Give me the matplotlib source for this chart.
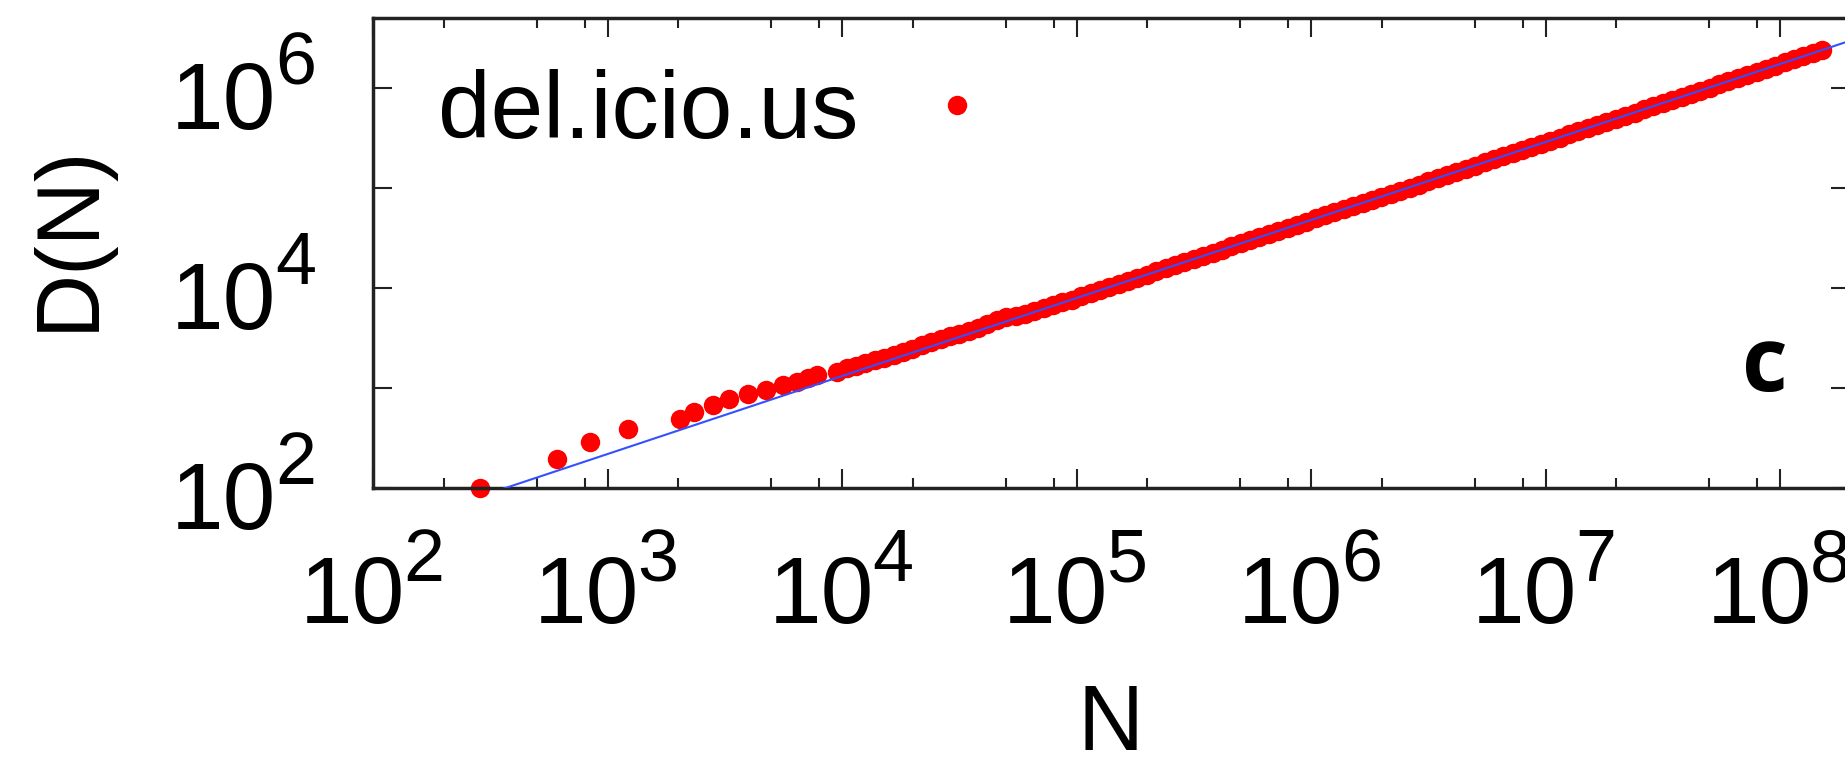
import numpy as np
import matplotlib
matplotlib.use('Agg')
import matplotlib.pyplot as plt
from matplotlib.ticker import LogLocator, NullFormatter, FixedLocator

plt.rcParams['font.family'] = ['Liberation Sans', 'DejaVu Sans']

# sparse early points (log10 N, log10 D)
early_logN = [2.456, 2.783, 2.925, 3.089, 3.309, 3.369, 3.451, 3.519, 3.600,
              3.676, 3.750, 3.807, 3.856, 3.892]
early_logD = [2.000, 2.287, 2.463, 2.590, 2.687, 2.763, 2.830, 2.887, 2.937,
              2.980, 3.030, 3.063, 3.097, 3.130]

# dense part of the curve (log10 N, log10 D)
dense_logN = [3.98, 4.02, 4.06, 4.10, 4.14, 4.18, 4.22, 4.26, 4.30, 4.34,
              4.38, 4.42, 4.46, 4.50, 4.54, 4.58, 4.62, 4.66, 4.70, 4.74,
              4.78, 4.82, 4.86, 4.90, 4.94, 4.98, 5.02, 5.06, 5.10, 5.14,
              5.18, 5.22, 5.26, 5.30, 5.34, 5.38, 5.42, 5.46, 5.50, 5.54,
              5.58, 5.62, 5.66, 5.70, 5.74, 5.78, 5.82, 5.86, 5.90, 5.94,
              5.98, 6.02, 6.06, 6.10, 6.14, 6.18, 6.22, 6.26, 6.30, 6.34,
              6.38, 6.42, 6.46, 6.50, 6.54, 6.58, 6.62, 6.66, 6.70, 6.74,
              6.78, 6.82, 6.86, 6.90, 6.94, 6.98, 7.02, 7.06, 7.10, 7.14,
              7.18, 7.22, 7.26, 7.30, 7.34, 7.38, 7.42, 7.46, 7.50, 7.54,
              7.58, 7.62, 7.66, 7.70, 7.74, 7.78, 7.82, 7.86, 7.90, 7.94,
              7.98, 8.02, 8.06, 8.10, 8.14, 8.18]
dense_logD = [3.16, 3.20, 3.22, 3.25, 3.28, 3.30, 3.33, 3.36, 3.39, 3.43,
              3.46, 3.49, 3.52, 3.54, 3.57, 3.60, 3.64, 3.68, 3.71, 3.72,
              3.74, 3.77, 3.80, 3.83, 3.86, 3.88, 3.92, 3.95, 3.98, 4.01,
              4.04, 4.07, 4.10, 4.13, 4.17, 4.20, 4.23, 4.26, 4.29, 4.32,
              4.35, 4.38, 4.42, 4.45, 4.48, 4.51, 4.54, 4.57, 4.60, 4.63,
              4.66, 4.70, 4.73, 4.76, 4.79, 4.82, 4.85, 4.88, 4.91, 4.94,
              4.97, 5.00, 5.03, 5.07, 5.10, 5.13, 5.16, 5.19, 5.22, 5.26,
              5.29, 5.32, 5.35, 5.38, 5.41, 5.44, 5.47, 5.50, 5.54, 5.57,
              5.60, 5.63, 5.66, 5.69, 5.72, 5.75, 5.79, 5.82, 5.85, 5.88,
              5.91, 5.94, 5.97, 6.00, 6.04, 6.07, 6.10, 6.13, 6.16, 6.19,
              6.22, 6.26, 6.29, 6.32, 6.35, 6.38]

# power-law fit D = A * N^gamma
fit_prefactor = 1.0
fit_exponent = 0.78
fit_N = [10**2.4, 10**8.4]

x_label_exps = [2, 3, 4, 5, 6, 7, 8]
y_label_exps = [2, 4, 6]

N = 10**np.array(early_logN + dense_logN)
D = 10**np.array(early_logD + dense_logD)

fig = plt.figure(figsize=(18.45, 7.61), dpi=100)
ax = fig.add_axes([0.2022, 0.3587, 0.8007, 0.6176])

ax.plot(N, D, 'o', color='#ff0000', ms=14, mec='none', label='del.icio.us',
        clip_on=False, zorder=2)
fN = np.array(fit_N)
ax.plot(fN, fit_prefactor * fN**fit_exponent, '-', color='#3450ff', lw=1.5, zorder=3)

ax.set_xscale('log')
ax.set_yscale('log')
ax.set_xlim(1e2, 10**8.30)
ax.set_ylim(1e2, 10**6.70)

ax.xaxis.set_major_locator(LogLocator(base=10, numticks=20))
ax.xaxis.set_minor_locator(LogLocator(base=10, subs=(2, 5, 8), numticks=20))
ax.xaxis.set_minor_formatter(NullFormatter())
ax.yaxis.set_major_locator(FixedLocator([1e2, 1e4, 1e6]))
ax.yaxis.set_minor_locator(FixedLocator([1e3, 1e5]))
ax.yaxis.set_minor_formatter(NullFormatter())

ax.tick_params(which='both', direction='in', top=True, right=True, width=1.5,
               color='#222222', labelbottom=False, labelleft=False)
ax.tick_params(axis='x', which='major', length=14)
ax.tick_params(axis='x', which='minor', length=7)
ax.tick_params(axis='y', which='both', length=14)
for s in ax.spines.values():
    s.set_linewidth(2.5)
    s.set_color('#222222')

# tick labels as "10" with a large raised exponent
base_fs, sup_fs = 68, 53
for e in x_label_exps:
    ax.annotate('10', xy=(10**e, 0), xycoords=('data', 'axes fraction'),
                xytext=(23.0, -97.0), textcoords='offset points',
                ha='right', va='baseline', fontsize=base_fs, annotation_clip=False)
    ax.annotate(str(e), xy=(10**e, 0), xycoords=('data', 'axes fraction'),
                xytext=(21.6, -67.0), textcoords='offset points',
                ha='left', va='baseline', fontsize=sup_fs, annotation_clip=False)
for e in y_label_exps:
    ax.annotate('10', xy=(0, 10**e), xycoords=('axes fraction', 'data'),
                xytext=(-69.8, -29.5), textcoords='offset points',
                ha='right', va='baseline', fontsize=base_fs, annotation_clip=False)
    ax.annotate(str(e), xy=(0, 10**e), xycoords=('axes fraction', 'data'),
                xytext=(-41.0, 2.9), textcoords='offset points',
                ha='right', va='baseline', fontsize=sup_fs, annotation_clip=False)

ax.set_xlabel('N', fontsize=66)
ax.set_ylabel('D(N)', fontsize=64)
ax.xaxis.set_label_coords(0.499, -0.415)
ax.yaxis.set_label_coords(-0.177, 0.533)

ax.legend(loc='upper left', bbox_to_anchor=(0.044, 0.891), frameon=False,
          markerfirst=False, numpoints=1, handlelength=1.0, handletextpad=0.54,
          borderpad=0, borderaxespad=0, fontsize=68)

ax.text(0.942, 0.206, 'c', transform=ax.transAxes, fontsize=64, fontweight='bold',
        family='Open Sans', ha='center', va='baseline')

fig.savefig('out.png', dpi=100)
